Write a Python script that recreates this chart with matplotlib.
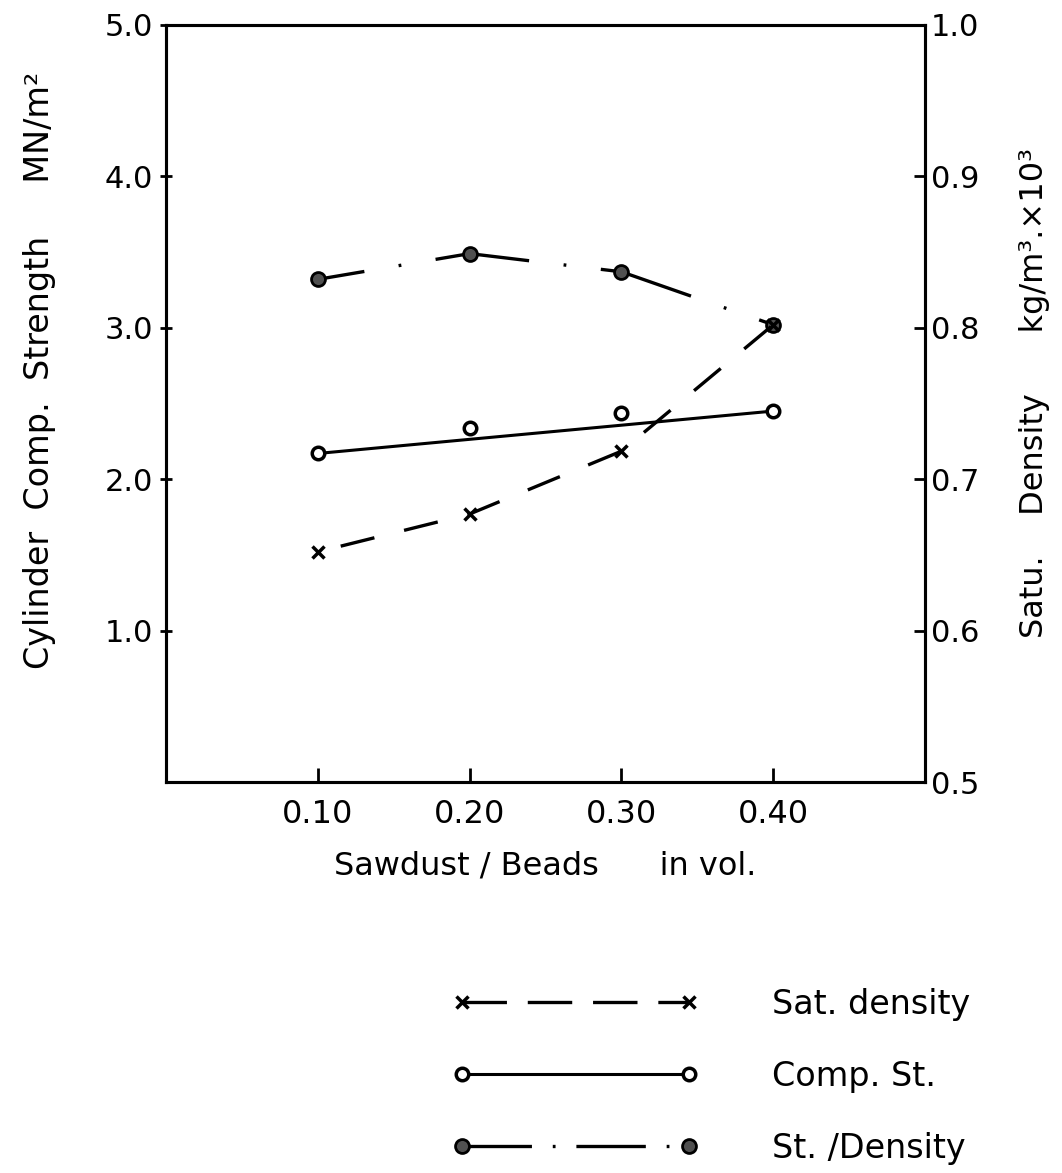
import matplotlib
matplotlib.use("Agg")
import matplotlib.pyplot as plt
from matplotlib.lines import Line2D
import numpy as np

plt.rcParams['font.family'] = ['DejaVu Sans']
plt.rcParams['lines.scale_dashes'] = False

# ---- data ----
ratio = [0.10, 0.20, 0.30, 0.40]                 # Sawdust / Beads in vol.
comp_strength = [2.17, 2.34, 2.44, 2.45]         # MN/m^2 (left axis)
st_per_density = [3.32, 3.49, 3.37, 3.02]        # left axis
sat_density = [0.652, 0.677, 0.7185, 0.802]      # kg/m^3 x 10^3 (right axis)

x_ticks = [0.10, 0.20, 0.30, 0.40]
x_ticklabels = ["0.10", "0.20", "0.30", "0.40"]
left_ticks = [1.0, 2.0, 3.0, 4.0, 5.0]
left_ticklabels = ["1.0", "2.0", "3.0", "4.0", "5.0"]
right_ticks = [0.5, 0.6, 0.7, 0.8, 0.9, 1.0]
right_ticklabels = ["0.5", "0.6", "0.7", "0.8", "0.9", "1.0"]

legend_labels = ["Sat. density", "Comp. St.", "St. /Density"]

# ---- styles ----
W, H, DPI = 1062, 1173, 100
fig = plt.figure(figsize=(W / DPI, H / DPI), dpi=DPI)
ax = fig.add_axes([166 / W, 1 - 782 / H, (925 - 166) / W, (782 - 25) / H])
ax2 = ax.twinx()

LW = 2.4
sat_style = dict(color='black', lw=LW, ls=(30, (25, 22)), marker='x', ms=9, mew=2.5)
comp_style = dict(color='black', lw=2.2, ls='-', marker='o', ms=9, mew=2.5, mfc='white')
std_style = dict(color='black', lw=LW, ls=(34, (68, 25, 2, 25)), marker='o', ms=10,
                 mew=2.0, mfc='#505050', mec='black')

x = np.array(ratio)
cs = np.array(comp_strength)

# St./Density (left axis)
ax.plot(x, st_per_density, **std_style, zorder=3)
# Comp. St. : markers at data + straight line from first to last value
ax.plot(x[[0, -1]], cs[[0, -1]], color='black', lw=2.2, zorder=2)
ax.plot(x, cs, ls='none', marker='o', ms=9, mew=2.5, mfc='white', mec='black', zorder=4)
# Sat. density (right axis)
ax2.plot(x, sat_density, **sat_style, zorder=3)

ax.set_xlim(0.0, 0.5)
ax.set_ylim(0.0, 5.0)
ax2.set_ylim(0.5, 1.0)

ax.set_xticks(x_ticks)
ax.set_xticklabels(x_ticklabels, fontsize=23)
ax.set_yticks(left_ticks)
ax.set_yticklabels(left_ticklabels, fontsize=22)
ax2.set_yticks(right_ticks)
ax2.set_yticklabels(right_ticklabels, fontsize=22)

ax.tick_params(axis='x', direction='in', length=10, width=2, pad=12)
ax.tick_params(axis='y', direction='inout', length=9, width=2, pad=5)
ax2.tick_params(axis='y', direction='in', length=8, width=2, pad=4)

for a in (ax, ax2):
    for s in a.spines.values():
        s.set_linewidth(2.2)

# Axis titles
fig.text(40 / W, 1 - 370 / H, "Cylinder  Comp.  Strength     MN/m²", rotation=90,
         ha='center', va='center', fontsize=24)
fig.text(1035 / W, 1 - 393 / H, "Satu.    Density      kg/m³.×10³", rotation=90,
         ha='center', va='center', fontsize=23)
fig.text(545 / W, 1 - 866 / H, "Sawdust / Beads      in vol.", ha='center', va='center',
         fontsize=23)

# Legend (proxy handles with the same styles)
handles = [
    Line2D([], [], color='black', lw=LW, ls=(0, (32, 15)), marker='x', ms=9, mew=2.5),
    Line2D([], [], **comp_style),
    Line2D([], [], color='black', lw=LW, ls=(0, (50, 15, 2, 15)), marker='o', ms=10,
           mew=2.0, mfc='#505050', mec='black'),
]
fig.legend(handles, legend_labels, loc='upper left',
           bbox_to_anchor=(452 / W, 1 - 988 / H), frameon=False, fontsize=24,
           numpoints=2, handlelength=7.4, handletextpad=2.2, labelspacing=1.17,
           borderpad=0, borderaxespad=0)

fig.savefig("out.png", dpi=DPI)
